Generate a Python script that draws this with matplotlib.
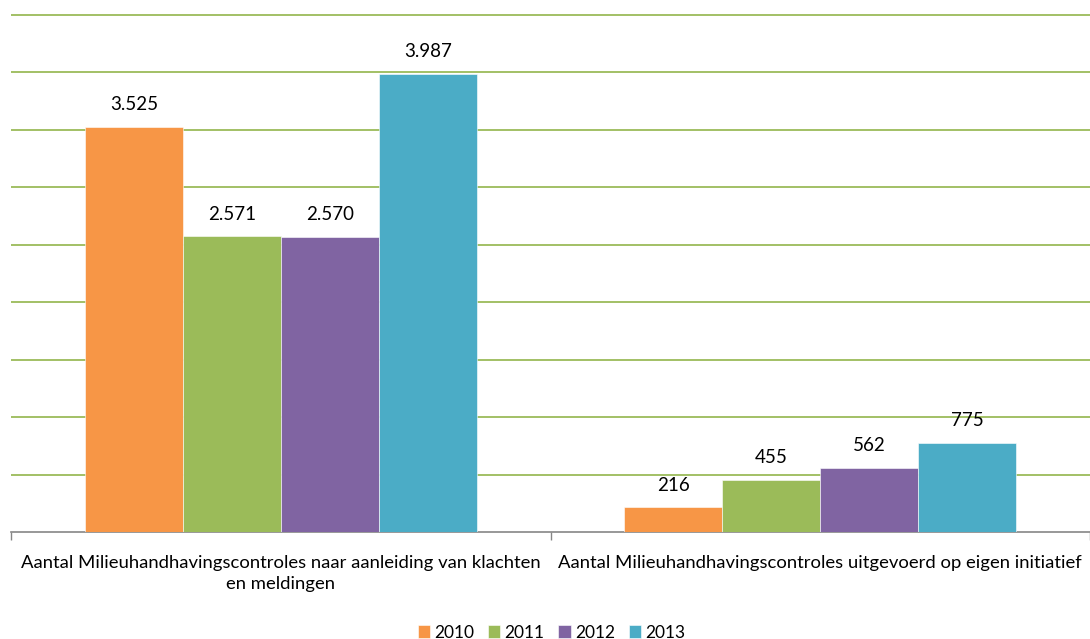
import matplotlib.pyplot as plt
import numpy as np

categories = ["Aantal Milieuhandhavingscontroles naar aanleiding van klachten\nen meldingen",
              "Aantal Milieuhandhavingscontroles uitgevoerd op eigen initiatief"]
years = ["2010", "2011", "2012", "2013"]
values = {
    "2010": [3525, 216],
    "2011": [2571, 455],
    "2012": [2570, 562],
    "2013": [3987, 775],
}
colors = ["#F79646", "#9BBB59", "#8064A2", "#4BACC6"]

plt.rcParams['font.family'] = ['Lato', 'DejaVu Sans']

fig = plt.figure(figsize=(10.9, 6.39), dpi=100)
ax = fig.add_axes([0.0101, 0.167, 0.9899, 0.812])

x = np.arange(len(categories))
w = 0.1816
for i, yr in enumerate(years):
    pos = x + (i - 1.5) * w
    bars = ax.bar(pos, values[yr], w, color=colors[i], label=yr, zorder=3,
                  edgecolor="white", linewidth=0.4)
    for b, v in zip(bars, values[yr]):
        txt = f"{v:,}".replace(",", ".")
        ax.annotate(txt, (b.get_x() + b.get_width() / 2, v), xytext=(0, 16),
                    textcoords="offset points", ha="center", va="center",
                    fontsize=13.5, color="black")

ax.set_xlim(-0.5, 1.5)
ax.set_ylim(0, 4510)
ax.set_yticks(np.arange(500, 4501, 500))
ax.yaxis.grid(True, color="#9BBB59", linewidth=1.3, zorder=0)
ax.tick_params(axis="y", left=False, labelleft=False)
for s in ["top", "right", "left"]:
    ax.spines[s].set_visible(False)
ax.spines["bottom"].set_color("#868686")
ax.spines["bottom"].set_linewidth(1.2)

ax.set_xticks([-0.5, 0.5, 1.5], minor=False)
ax.set_xticklabels([])
ax.tick_params(axis="x", length=6, color="#868686", width=1)
ax.set_xticks(x, minor=True)
ax.set_xticklabels(categories, minor=True, fontsize=13.3)
ax.tick_params(axis="x", which="minor", length=0, pad=16)
for lbl in ax.get_xticklabels(minor=True):
    lbl.set_linespacing(1.4)

ax.legend(loc="center", bbox_to_anchor=(0.506, 0.01), ncol=4, frameon=False,
          fontsize=12.5, handlelength=0.7, handleheight=0.7, handletextpad=0.25,
          columnspacing=0.8, bbox_transform=fig.transFigure)

fig.savefig("out.png", dpi=100)
